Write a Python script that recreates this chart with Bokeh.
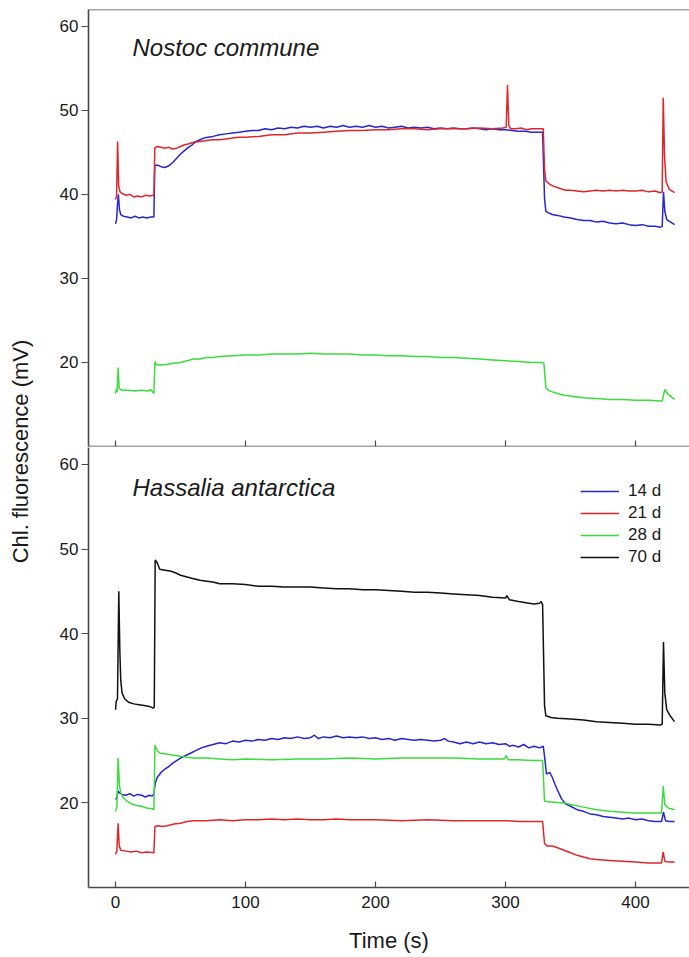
import math
from bokeh.plotting import figure
from bokeh.models import Range1d, LinearAxis, FixedTicker, Legend, LegendItem, Label, Span
from bokeh.layouts import row, column
from bokeh.embed import file_html
from bokeh.resources import INLINE

# ---------------- data ----------------
X_TICKS = [0, 100, 200, 300, 400]
Y_TICKS = [20, 30, 40, 50, 60]
SERIES_LABELS = ["14 d", "21 d", "28 d", "70 d"]
COLORS = {"14 d": "#2626d4", "21 d": "#e0262b", "28 d": "#3cdc3c", "70 d": "#111111"}
TITLE_TOP = "Nostoc commune"
TITLE_BOTTOM = "Hassalia antarctica"

# Nostoc commune, 14 d
NC14_T = [0, 0.8, 1.5, 2.2, 3, 4, 6, 9, 12, 15, 18, 21, 24, 27, 29.5,
          30.2, 32, 35, 38, 41, 44, 47, 50, 53, 56, 59, 62, 65, 68, 71, 75, 80, 85, 90, 95,
          100, 105, 110, 115, 120, 125, 130, 135, 140, 145, 150, 155, 160, 165, 170, 175,
          180, 185, 190, 195, 200, 205, 210, 215, 220, 225, 230, 235, 240, 245, 250, 255,
          260, 265, 270, 275, 280, 285, 290, 295, 300, 305, 310, 315, 320, 325, 328.5,
          330, 331, 333, 336, 340, 345, 350, 355, 360, 365, 370, 375, 380, 385, 390, 395,
          400, 405, 410, 415, 419, 420.5, 421.5, 422.5, 424, 427, 430]
NC14_V = [36.5, 37.0, 38.8, 40.0, 38.2, 37.6, 37.4, 37.3, 37.2, 37.4, 37.2, 37.3, 37.2, 37.3, 37.3,
          43.4, 43.5, 43.3, 43.2, 43.4, 43.8, 44.3, 44.8, 45.2, 45.6, 45.9, 46.3, 46.5, 46.7, 46.8, 46.9, 47.1, 47.2, 47.3, 47.4,
          47.5, 47.6, 47.6, 47.8, 47.7, 47.9, 47.8, 48.0, 47.9, 48.1, 48.0, 48.1, 47.9, 48.1, 48.0, 48.2,
          48.0, 48.1, 48.0, 48.2, 48.0, 48.1, 47.9, 48.0, 48.1, 47.9, 48.0, 47.9, 48.0, 47.8, 47.9, 47.8,
          47.9, 47.8, 47.8, 47.9, 47.8, 47.7, 47.8, 47.7, 47.7, 47.6, 47.5, 47.5, 47.4, 47.4, 47.4,
          39.5, 38.0, 37.8, 37.6, 37.5, 37.3, 37.2, 37.0, 36.9, 36.9, 36.7, 36.8, 36.6, 36.5, 36.6, 36.4,
          36.3, 36.4, 36.2, 36.2, 36.1, 36.2, 40.3, 38.0, 37.0, 36.7, 36.4]

# Nostoc commune, 21 d
NC21_T = [0, 0.8, 1.6, 2.4, 3.5, 5, 8, 11, 14, 17, 20, 23, 26, 29.5,
          30.2, 32, 35, 38, 41, 44, 47, 50, 53, 56, 60, 65, 70, 75, 80, 85, 90, 95, 100,
          110, 120, 130, 140, 150, 160, 170, 180, 190, 200, 210, 220, 230, 240, 250, 260,
          270, 280, 290, 298, 300.5, 301.5, 302.5, 304, 308, 312, 316, 320, 325, 329,
          330, 331, 334, 338, 342, 346, 350, 355, 360, 365, 370, 375, 380, 385, 390, 395,
          400, 405, 410, 415, 419, 420.5, 421.3, 422.3, 423.5, 426, 430]
NC21_V = [39.4, 39.8, 46.3, 41.0, 40.3, 40.1, 39.9, 40.0, 39.7, 39.8, 39.7, 39.9, 39.8, 39.9,
          45.5, 45.7, 45.6, 45.5, 45.6, 45.4, 45.5, 45.7, 45.9, 46.0, 46.2, 46.3, 46.4, 46.5, 46.5, 46.6, 46.7, 46.8, 46.8,
          46.9, 47.1, 47.1, 47.3, 47.3, 47.4, 47.5, 47.6, 47.6, 47.7, 47.7, 47.8, 47.8, 47.7, 47.8, 47.8,
          47.8, 47.9, 47.8, 47.9, 48.0, 53.0, 48.2, 47.8, 47.8, 47.9, 47.7, 47.8, 47.8, 47.8,
          43.0, 41.6, 41.2, 40.9, 40.7, 40.5, 40.5, 40.4, 40.3, 40.4, 40.5, 40.4, 40.5, 40.4, 40.5, 40.4,
          40.4, 40.5, 40.3, 40.4, 40.2, 40.3, 51.5, 44.5, 41.5, 40.6, 40.2]

# Nostoc commune, 28 d
NC28_T = [0, 0.5, 1.2, 2, 2.8, 5, 10, 15, 20, 25, 27, 29.5,
          30.3, 31.5, 35, 40, 45, 50, 55, 60, 65, 70, 75, 80, 90, 100, 110, 120, 130, 140,
          150, 160, 170, 180, 190, 200, 210, 220, 230, 240, 250, 260, 270, 280, 290, 300,
          310, 320, 328, 329.5, 331, 333, 336, 340, 345, 350, 355, 360, 370, 380, 390, 400,
          410, 419, 420.5, 422.5, 425, 430]
NC28_V = [16.3, 16.8, 16.5, 19.4, 16.9, 16.7, 16.7, 16.6, 16.7, 16.6, 16.8, 16.3,
          20.1, 19.7, 19.7, 19.8, 19.9, 20.0, 20.2, 20.4, 20.4, 20.6, 20.6, 20.7, 20.8, 20.9, 20.9, 21.0, 21.0, 21.0,
          21.1, 21.0, 21.0, 21.0, 20.9, 20.9, 20.8, 20.8, 20.7, 20.7, 20.6, 20.6, 20.5, 20.4, 20.3, 20.2,
          20.1, 20.0, 20.0, 19.9, 17.0, 16.7, 16.5, 16.3, 16.1, 16.0, 15.9, 15.8, 15.7, 15.6, 15.6, 15.5,
          15.5, 15.4, 15.4, 16.8, 16.2, 15.6]

# Hassalia antarctica, 14 d
HA14_T = [0, 1, 2, 3, 5, 8, 11, 14, 17, 20, 23, 26, 28, 29.5,
          30.5, 32, 35, 38, 41, 44, 47, 50, 54, 58, 62, 66, 70, 75, 80, 85, 90, 95, 100,
          105, 110, 115, 120, 125, 130, 135, 140, 145, 150, 153, 156, 160, 165, 170, 175,
          180, 185, 190, 195, 200, 205, 210, 215, 220, 225, 230, 235, 240, 245, 250, 253,
          256, 260, 265, 270, 275, 280, 285, 290, 295, 300, 303, 306, 310, 314, 318, 322,
          326, 329, 330, 331.5, 334, 336, 338, 340, 343, 346, 350, 355, 360, 365, 370, 375,
          380, 385, 390, 395, 400, 405, 410, 415, 420, 421.5, 423, 426, 430]
HA14_V = [20.4, 20.6, 21.4, 21.2, 21.0, 20.9, 21.1, 20.8, 21.0, 20.9, 20.7, 20.9, 20.8, 21.0,
          22.3, 23.0, 23.6, 24.0, 24.3, 24.7, 25.0, 25.3, 25.6, 25.9, 26.2, 26.5, 26.7, 26.9, 27.1, 27.0, 27.3, 27.2, 27.4,
          27.3, 27.5, 27.4, 27.6, 27.5, 27.7, 27.6, 27.8, 27.6, 27.7, 28.0, 27.6, 27.8, 27.7, 27.9, 27.7,
          27.8, 27.7, 27.8, 27.6, 27.7, 27.5, 27.6, 27.4, 27.6, 27.5, 27.4, 27.5, 27.4, 27.3, 27.4, 27.6,
          27.3, 27.2, 27.0, 27.2, 27.0, 27.2, 27.0, 27.1, 26.9, 27.0, 26.7, 26.8, 26.6, 26.9, 26.5, 26.7,
          26.5, 26.7, 25.5, 23.4, 23.6, 23.0, 22.2, 21.5, 20.5, 19.9, 19.6, 19.2, 19.0, 18.7, 18.6, 18.4,
          18.3, 18.2, 18.1, 18.2, 18.0, 18.1, 17.9, 17.8, 17.8, 18.9, 17.9, 17.8, 17.8]

# Hassalia antarctica, 21 d
HA21_T = [0, 1, 2, 2.8, 4, 8, 12, 16, 20, 24, 29.5,
          30.3, 33, 36, 40, 45, 50, 55, 60, 70, 80, 90, 100, 110, 120, 130, 140, 150, 160,
          170, 180, 190, 200, 220, 240, 260, 280, 300, 310, 320, 328.5,
          330, 332, 336, 340, 345, 350, 355, 360, 365, 370, 380, 390, 400, 410, 420,
          421.3, 422.5, 425, 430]
HA21_V = [13.9, 14.3, 17.6, 15.0, 14.4, 14.3, 14.2, 14.3, 14.1, 14.2, 14.1,
          17.2, 17.3, 17.2, 17.3, 17.5, 17.6, 17.8, 17.9, 17.9, 18.0, 17.9, 18.0, 18.0, 18.1, 18.0, 18.1, 18.0, 18.0,
          18.1, 18.0, 18.0, 18.0, 17.9, 18.0, 17.9, 17.9, 17.9, 17.8, 17.8, 17.8,
          15.2, 14.9, 14.9, 14.7, 14.4, 14.1, 13.8, 13.6, 13.4, 13.3, 13.2, 13.1, 13.0, 12.9, 12.9,
          14.2, 13.1, 13.0, 13.0]

# Hassalia antarctica, 28 d
HA28_T = [0, 1, 2, 3, 4, 6, 9, 12, 16, 20, 24, 28, 29.5,
          30.3, 32, 34, 38, 42, 46, 50, 55, 60, 70, 80, 90, 100, 120, 140, 160, 180, 200,
          220, 240, 260, 280, 299, 300.5, 302, 310, 320, 328.5,
          330, 335, 345, 350, 360, 370, 380, 390, 400, 410, 420, 421.3, 422.5, 425, 430]
HA28_V = [19.0, 19.5, 25.3, 22.0, 21.2, 20.6, 20.2, 19.9, 19.7, 19.6, 19.4, 19.3, 19.2,
          26.8, 26.2, 25.9, 25.8, 25.7, 25.6, 25.5, 25.4, 25.3, 25.3, 25.2, 25.1, 25.2, 25.1, 25.2, 25.2, 25.3, 25.2,
          25.3, 25.3, 25.3, 25.2, 25.2, 25.6, 25.1, 25.1, 25.0, 25.0,
          20.2, 20.1, 20.0, 19.8, 19.5, 19.2, 19.0, 18.9, 18.8, 18.8, 18.8, 22.0, 19.8, 19.4, 19.2]

# Hassalia antarctica, 70 d
HA70_T = [0, 0.5, 1.5, 2.5, 3.3, 4, 5, 7, 10, 14, 18, 22, 26, 29, 29.8,
          30.5, 32, 34, 38, 42, 46, 50, 55, 60, 65, 70, 75, 80, 90, 100, 110, 120, 130, 140,
          150, 160, 170, 180, 190, 200, 210, 220, 230, 240, 250, 260, 270, 280, 290, 300,
          301, 303, 310, 318, 322, 326, 327.5, 328.5,
          330, 331, 335, 340, 350, 360, 370, 380, 390, 400, 410, 419, 420.5, 421.5, 422.5,
          424, 427, 430]
HA70_V = [31.0, 32.0, 32.3, 45.0, 38.0, 34.5, 33.0, 32.3, 31.9, 31.7, 31.6, 31.5, 31.4, 31.2, 31.3,
          48.7, 48.4, 47.6, 47.5, 47.4, 47.2, 46.9, 46.7, 46.5, 46.3, 46.2, 46.1, 45.9, 45.9, 45.8, 45.6, 45.6, 45.5, 45.5,
          45.5, 45.4, 45.3, 45.3, 45.2, 45.2, 45.1, 45.0, 44.9, 44.9, 44.8, 44.7, 44.6, 44.5, 44.3, 44.2,
          44.5, 44.0, 43.8, 43.6, 43.5, 43.6, 43.8, 43.4,
          31.5, 30.3, 30.1, 30.0, 29.9, 29.8, 29.6, 29.5, 29.4, 29.3, 29.3, 29.2, 29.3, 39.0, 33.0,
          31.0, 30.2, 29.6]

TOP_SERIES = [("14 d", NC14_T, NC14_V), ("21 d", NC21_T, NC21_V), ("28 d", NC28_T, NC28_V)]
BOTTOM_SERIES = [("14 d", HA14_T, HA14_V), ("21 d", HA21_T, HA21_V),
                 ("28 d", HA28_T, HA28_V), ("70 d", HA70_T, HA70_V)]

# ---------------- style ----------------
FONT = "Liberation Sans"
AX_COL = "#4a4a4a"
TXT_COL = "#1a1a1a"
LW = 1.5
FRAME_W = 601
LEFT_B = 50
LABEL_W = 38
TOTAL_H = 950


def style_y_axis(ax):
    ax.ticker = FixedTicker(ticks=Y_TICKS)
    ax.axis_line_color = AX_COL
    ax.axis_line_width = 1.6
    ax.major_tick_line_color = AX_COL
    ax.major_tick_line_width = 1.2
    ax.major_tick_out = 7
    ax.major_tick_in = 0
    ax.minor_tick_line_color = None
    ax.major_label_standoff = 3
    ax.major_label_text_font = FONT
    ax.major_label_text_font_size = "17px"
    ax.major_label_text_color = TXT_COL


def make_panel(frame_h, mb_top, mb_bottom):
    p = figure(frame_width=FRAME_W, frame_height=frame_h,
               output_backend="svg", toolbar_location=None,
               x_range=Range1d(-20.8, 441.5), y_range=Range1d(10, 62),
               x_axis_type=None, y_axis_type=None,
               min_border_left=LEFT_B, min_border_right=0,
               min_border_top=mb_top, min_border_bottom=mb_bottom)
    p.outline_line_color = None
    p.background_fill_color = "white"
    p.border_fill_color = "white"
    yax = LinearAxis()
    style_y_axis(yax)
    p.add_layout(yax, "left")
    return p


# ---------- top panel ----------
top = make_panel(437, 9, 1)
for lab, t, v in TOP_SERIES:
    top.line(t, v, line_color=COLORS[lab], line_width=LW)

top.add_layout(Span(location=62, dimension="width", line_color=AX_COL, line_width=1.6))
xtop = LinearAxis(ticker=FixedTicker(ticks=X_TICKS), fixed_location=10)
xtop.axis_line_color = AX_COL
xtop.axis_line_width = 1.6
xtop.major_tick_line_color = AX_COL
xtop.major_tick_line_width = 1.2
xtop.major_tick_in = 6
xtop.major_tick_out = 0
xtop.minor_tick_line_color = None
xtop.major_label_text_font_size = "0px"
xtop.major_label_text_alpha = 0
top.add_layout(xtop, "below")

top.add_layout(Label(x=44, y=399, x_units="screen", y_units="screen", text=TITLE_TOP,
                     text_font=FONT, text_font_size="24px", text_font_style="italic",
                     text_color=TXT_COL, text_baseline="middle"))

# ---------- bottom panel ----------
bot = make_panel(440, 0, 0)
renderers = {}
for lab, t, v in BOTTOM_SERIES:
    renderers[lab] = bot.line(t, v, line_color=COLORS[lab], line_width=LW)

xbot = LinearAxis(ticker=FixedTicker(ticks=X_TICKS), axis_label="Time (s)")
xbot.axis_line_color = AX_COL
xbot.axis_line_width = 1.6
xbot.major_tick_line_color = AX_COL
xbot.major_tick_line_width = 1.2
xbot.major_tick_in = 6
xbot.major_tick_out = 0
xbot.minor_tick_line_color = None
xbot.major_label_standoff = 8
xbot.major_label_text_font = FONT
xbot.major_label_text_font_size = "17px"
xbot.major_label_text_color = TXT_COL
xbot.axis_label_standoff = 17
xbot.axis_label_text_font = FONT
xbot.axis_label_text_font_size = "22px"
xbot.axis_label_text_font_style = "normal"
xbot.axis_label_text_color = TXT_COL
bot.add_layout(xbot, "below")

bot.add_layout(Label(x=44, y=400, x_units="screen", y_units="screen", text=TITLE_BOTTOM,
                     text_font=FONT, text_font_size="24px", text_font_style="italic",
                     text_color=TXT_COL, text_baseline="middle"))

legend = Legend(items=[LegendItem(label=lab, renderers=[renderers[lab]]) for lab in SERIES_LABELS],
                location=(492, 320), padding=0, margin=0, spacing=2,
                glyph_width=39, glyph_height=20, label_height=20, label_standoff=9,
                label_text_font=FONT, label_text_font_size="17px", label_text_color=TXT_COL,
                background_fill_alpha=0, border_line_color=None)
bot.add_layout(legend)

# ---------- shared y-axis label ----------
lab_fig = figure(width=LABEL_W, height=TOTAL_H, output_backend="svg", toolbar_location=None,
                 x_range=Range1d(0, 1), y_range=Range1d(0, 1),
                 x_axis_type=None, y_axis_type=None,
                 min_border_left=0, min_border_right=0, min_border_top=0, min_border_bottom=0)
lab_fig.outline_line_color = None
lab_fig.add_layout(Label(x=20, y=TOTAL_H - 451, x_units="screen", y_units="screen",
                         text="Chl. fluorescence (mV)", angle=math.pi / 2,
                         text_align="center", text_baseline="middle",
                         text_font=FONT, text_font_size="22px", text_color=TXT_COL))

layout = row(lab_fig, column(top, bot))
open("out.html", "w").write(file_html(layout, INLINE))
